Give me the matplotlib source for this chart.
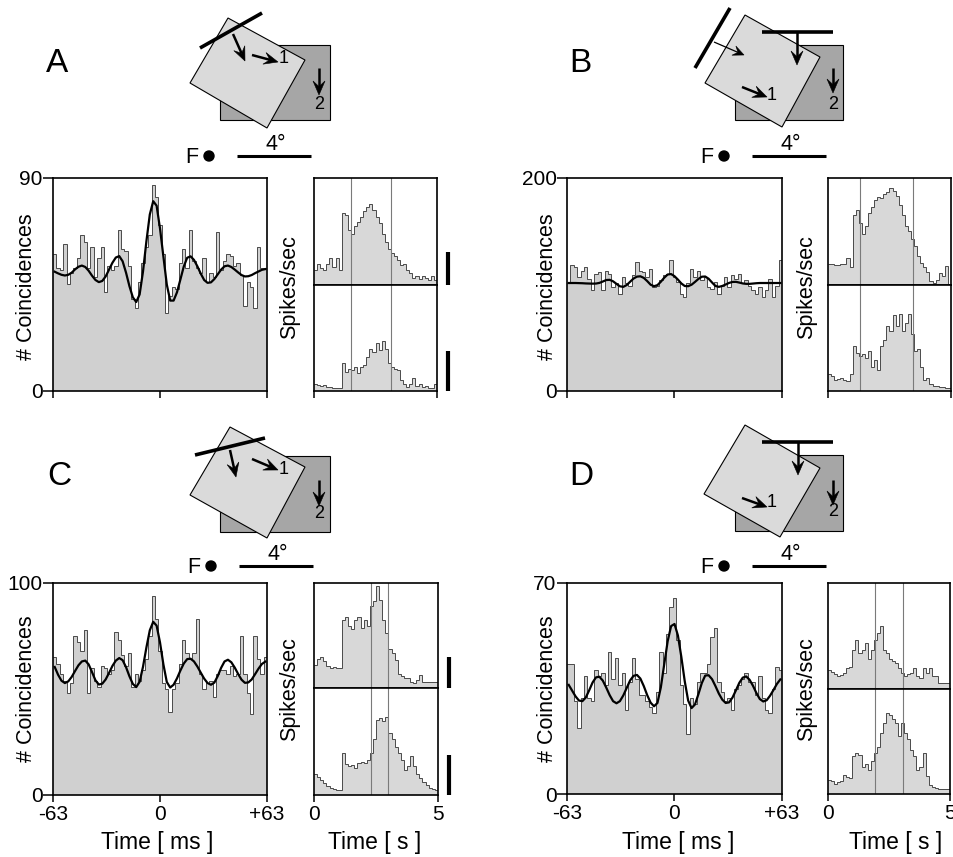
import numpy as np
import matplotlib
matplotlib.use('Agg')
import matplotlib.pyplot as plt
from matplotlib import transforms
from matplotlib.patches import Polygon, Rectangle, Circle

plt.rcParams['font.family'] = ['Liberation Sans', 'DejaVu Sans']

W, H = 954, 857

# cross-correlograms, 2 ms bins from -63 to +63 ms
lag_edges = np.linspace(-63, 63, 64)
lag_centers = (lag_edges[:-1] + lag_edges[1:]) / 2

corr_a = [58, 52, 51, 62, 45, 50, 52, 56, 66, 63, 52, 61, 48, 56, 61, 42, 53, 51, 53, 68,
          60, 59, 53, 39, 35, 46, 54, 61, 66, 87, 82, 70, 58, 33, 40, 44, 43, 54, 60, 52,
          68, 55, 52, 50, 56, 46, 50, 48, 67, 51, 55, 58, 57, 53, 54, 49, 36, 46, 44, 35,
          61, 52, 52]
fit_a = [50.4, 49.7, 49.1, 48.8, 49.1, 50.0, 51.4, 52.5, 53.0, 52.4,
         50.8, 48.7, 46.9, 46.0, 46.5, 48.4, 51.3, 54.2, 56.4, 57.0,
         54.8, 50.0, 44.3, 39.6, 37.6, 40.8, 50.5, 63.3, 74.6, 80.2,
         78.3, 68.7, 56.8, 45.0, 38.2, 38.2, 41.7, 47.1, 52.6, 56.3,
         56.9, 55.4, 52.7, 49.6, 46.9, 45.7, 45.9, 47.3, 49.3, 51.3,
         52.7, 53.0, 52.4, 51.3, 50.1, 49.0, 48.4, 48.5, 49.0, 49.8,
         50.5, 51.2, 51.5]

corr_b = [101, 118, 116, 107, 113, 116, 105, 95, 110, 112, 95, 113, 110, 98, 101, 91, 107, 101, 99, 109,
          121, 113, 112, 107, 115, 98, 99, 104, 109, 110, 123, 107, 102, 91, 88, 101, 115, 107, 113, 104,
          107, 98, 96, 102, 91, 99, 107, 98, 109, 105, 110, 101, 104, 99, 95, 91, 98, 88, 95, 105,
          88, 99, 123]
fit_b = [101.4, 101.4, 101.4, 101.3, 101.2, 101.0, 100.9, 100.8, 100.9, 101.5,
         102.8, 104.2, 104.4, 103.0, 100.6, 98.3, 97.8, 99.5, 102.6, 105.6,
         107.4, 107.7, 106.2, 103.2, 99.8, 98.4, 99.4, 102.6, 106.4, 109.4,
         109.8, 107.8, 104.6, 101.0, 98.6, 98.4, 99.8, 102.4, 105.2, 107.3,
         107.5, 105.4, 101.9, 98.6, 97.8, 98.6, 100.0, 101.5, 102.4, 102.5,
         101.8, 101.0, 100.6, 100.6, 100.9, 101.2, 101.4, 101.4, 101.4, 101.4,
         101.4, 101.4, 101.4]

corr_c = [65, 62, 57, 54, 48, 53, 75, 72, 68, 78, 48, 60, 54, 51, 61, 60, 57, 59, 77, 73,
          66, 61, 67, 51, 57, 54, 59, 64, 75, 94, 83, 68, 53, 50, 39, 50, 53, 62, 73, 67,
          64, 67, 83, 57, 50, 53, 54, 46, 57, 59, 59, 57, 61, 56, 57, 75, 57, 48, 38, 75,
          64, 57, 65]
fit_c = [60.4, 56.7, 53.9, 52.8, 53.6, 55.7, 58.5, 61.2, 63.0, 63.4,
         61.6, 57.9, 54.1, 52.1, 52.5, 54.5, 57.6, 60.9, 63.4, 64.6,
         63.6, 60.3, 56.0, 52.4, 50.9, 53.4, 60.5, 69.6, 77.7, 81.7,
         79.9, 72.0, 61.6, 53.3, 50.7, 52.0, 55.0, 58.7, 62.0, 64.1,
         64.3, 63.0, 60.6, 57.7, 54.9, 52.8, 52.0, 53.0, 56.1, 60.0,
         63.0, 63.8, 62.6, 60.1, 57.1, 54.4, 52.9, 53.1, 54.5, 57.0,
         59.6, 61.8, 62.9]

corr_d = [43, 43, 31, 22, 32, 39, 32, 31, 41, 39, 40, 36, 47, 38, 45, 36, 40, 28, 37, 45,
          38, 33, 33, 31, 29, 27, 34, 47, 40, 53, 62, 65, 51, 36, 30, 20, 32, 30, 37, 40,
          40, 43, 52, 55, 37, 34, 31, 32, 28, 35, 36, 38, 40, 37, 37, 33, 39, 32, 28, 27,
          35, 42, 41]
fit_d = [36.2, 34.3, 32.4, 31.0, 30.8, 32.0, 34.4, 37.0, 38.7, 38.9,
         37.6, 35.3, 32.8, 30.8, 30.1, 30.8, 32.7, 35.2, 37.7, 39.2,
         39.5, 38.3, 35.8, 32.8, 30.3, 29.1, 30.2, 35.4, 43.1, 50.7,
         55.7, 56.4, 52.6, 45.5, 37.4, 31.0, 28.5, 29.7, 33.1, 36.8,
         39.3, 39.4, 38.1, 35.8, 33.3, 31.3, 30.2, 30.4, 32.0, 34.4,
         36.9, 38.6, 39.0, 37.9, 35.9, 33.5, 31.5, 30.7, 31.1, 32.6,
         34.5, 36.5, 38.0]

corr_ymax = [90, 200, 100, 70]

# PSTHs, 0-5 s, 40 bins; heights in % of each half panel
t_edges = np.linspace(0, 5, 41)
psth_a_top = [14, 20, 16, 14, 20, 25, 17, 25, 14, 67, 65, 51, 48, 55, 59, 64, 69, 73, 76, 70,
              64, 58, 48, 40, 34, 30, 27, 23, 19, 20, 14, 11, 7, 8, 6, 8, 7, 5, 8, 5]
psth_a_bot = [7, 6, 5, 6, 4, 4, 3, 3, 3, 26, 18, 21, 20, 23, 17, 23, 25, 32, 40, 37,
              45, 39, 47, 40, 26, 23, 21, 20, 10, 7, 4, 7, 12, 5, 7, 4, 5, 3, 3, 7]
psth_b_top = [20, 20, 19, 19, 20, 20, 25, 17, 65, 70, 58, 48, 55, 67, 73, 79, 82, 81, 85, 87,
              91, 88, 83, 75, 65, 55, 50, 43, 36, 27, 21, 17, 12, 4, 2, 5, 11, 8, 18, 1]
psth_b_bot = [16, 14, 10, 11, 12, 10, 9, 16, 42, 36, 33, 35, 31, 38, 23, 29, 20, 42, 48, 61,
              57, 72, 61, 73, 57, 64, 73, 54, 38, 40, 23, 10, 12, 7, 5, 5, 4, 4, 3, 3]
psth_c_top = [22, 28, 30, 26, 21, 19, 20, 19, 19, 65, 68, 59, 56, 65, 68, 57, 65, 59, 78, 83,
              97, 84, 65, 52, 37, 33, 27, 13, 11, 10, 10, 6, 5, 8, 12, 6, 6, 6, 6, 6]
psth_c_bot = [20, 17, 14, 11, 8, 7, 6, 5, 5, 39, 29, 27, 28, 25, 30, 31, 30, 33, 39, 52,
              70, 72, 69, 73, 58, 52, 45, 39, 33, 23, 27, 36, 27, 20, 16, 12, 9, 7, 6, 5]
psth_d_top = [18, 16, 14, 12, 13, 15, 20, 21, 37, 46, 34, 37, 43, 28, 37, 46, 53, 59, 37, 34,
              28, 26, 25, 20, 15, 12, 14, 15, 20, 12, 10, 20, 15, 20, 12, 12, 6, 6, 6, 6]
psth_d_bot = [13, 12, 10, 11, 12, 18, 16, 15, 36, 39, 37, 26, 29, 23, 31, 39, 45, 58, 68, 77,
              75, 71, 68, 55, 68, 58, 52, 42, 36, 23, 26, 39, 17, 9, 7, 6, 5, 5, 5, 5]

cues_a = [1.49, 3.12]
cues_b = [1.30, 3.47]
cues_c = [2.28, 3.00]
cues_d = [1.93, 3.07]
scale_a = [31, 38]
scale_c = [30, 37]


def px_axes(fig, left, top, right, bottom):
    return fig.add_axes([left / W, 1 - bottom / H, (right - left) / W, (bottom - top) / H])


def arrow(ov, xa, ya, xb, yb, head=14.0, half=6.0, lw=1.8):
    dx, dy = xb - xa, yb - ya
    L = np.hypot(dx, dy)
    ux, uy = dx / L, dy / L
    nx, ny = -uy, ux
    notch = (xb - 0.6 * head * ux, yb - 0.6 * head * uy)
    bx, by = xb - head * ux, yb - head * uy
    ov.plot([xa, notch[0]], [ya, notch[1]], color='black', lw=lw, solid_capstyle='butt')
    ov.add_patch(Polygon([(xb, yb), (bx + half * nx, by + half * ny), notch,
                          (bx - half * nx, by - half * ny)], closed=True, fc='black', ec='black', lw=0.4))


def scene(ov, dark, light, bars, arrows, one, two):
    x0, y0, x1, y1 = dark
    ov.add_patch(Rectangle((x0, y0), x1 - x0, y1 - y0, fc='#a6a6a6', ec='black', lw=0.8))
    ov.add_patch(Polygon(light, closed=True, fc='#dadada', ec='black', lw=0.8))
    for xa, ya, xb, yb in bars:
        ov.plot([xa, xb], [ya, yb], color='black', lw=2.6, solid_capstyle='butt')
    for a in arrows:
        arrow(ov, *a)
    ov.text(one[0], one[1], '1', fontsize=13, ha='center', va='center')
    ov.text(two[0], two[1], '2', fontsize=13, ha='center', va='center')


def fixation(ov, x, y):
    ov.text(x, y, 'F', fontsize=15.5, ha='right', va='baseline')
    ov.add_patch(Circle((x + 11, y - 7), 5, color='black'))
    ov.plot([x + 39, x + 113], [y - 7, y - 7], color='black', lw=2.2, solid_capstyle='butt')
    ov.text(x + 78, y - 13, '4°', fontsize=15.5, ha='center', va='baseline')


def draw_corr(fig, box, counts, fit, ymax, labels):
    ax = px_axes(fig, *box)
    ax.stairs(counts, lag_edges, fill=True, color='#d0d0d0', lw=0)
    ax.stairs(counts, lag_edges, baseline=None, color='#4a4a4a', lw=0.7)
    ax.plot(lag_centers, fit, color='black', lw=1.6)
    ax.set_xlim(-63, 63)
    ax.set_ylim(0, ymax)
    ax.set_xticks([-63, 0, 63])
    ax.set_xticklabels(['-63', '0', '+63'] if labels else [])
    ax.set_yticks([0, ymax])
    ax.set_yticklabels(['0', str(ymax)])
    ax.tick_params(axis='x', direction='out', length=5, width=1.1, labelsize=15, pad=2)
    ax.tick_params(axis='y', direction='out', length=7, width=1.1, labelsize=15, pad=0.5)
    for s in ax.spines.values():
        s.set_linewidth(1.2)
    return ax


def draw_psth(fig, left, top, mid, right, bottom, upper, lower, cues, bars, labels):
    ax1 = px_axes(fig, left, top, right, mid)
    ax2 = px_axes(fig, left, mid, right, bottom)
    for ax, vals in ((ax1, upper), (ax2, lower)):
        ax.stairs(vals, t_edges, fill=True, color='#d8d8d8', lw=0)
        ax.stairs(vals, t_edges, baseline=None, color='#4a4a4a', lw=0.7)
        for c in cues:
            ax.axvline(c, color='#7a7a7a', lw=0.8)
        ax.set_xlim(0, 5)
        ax.set_ylim(0, 100)
        ax.set_yticks([])
        for s in ax.spines.values():
            s.set_linewidth(1.2)
    ax1.set_xticks([])
    ax2.set_xticks([0, 5])
    ax2.set_xticklabels(['0', '5'] if labels else [])
    ax2.tick_params(axis='x', direction='out', length=5, width=1.1, labelsize=15, pad=2)
    if bars:
        for ax, b in zip((ax1, ax2), bars):
            tr = transforms.blended_transform_factory(ax.transAxes, ax.transData)
            ax.plot([1.09, 1.09], [0, b], transform=tr, clip_on=False,
                    color='black', lw=3, solid_capstyle='butt')
    return ax1, ax2


fig = plt.figure(figsize=(W / 100, H / 100), dpi=100)
ov = fig.add_axes([0, 0, 1, 1])
ov.set_xlim(0, W)
ov.set_ylim(H, 0)
ov.axis('off')

# panel A
scene(ov, (220, 45, 330, 120), [(228, 18), (305, 60), (267, 128), (190, 83)],
      [(200, 48, 262, 13)],
      [(233, 34, 245, 61), (252, 55, 278, 62), (319, 68, 319, 95)], (284, 58), (319, 104))
fixation(ov, 198, 163)
# panel B
scene(ov, (735, 45, 843, 120), [(745, 15), (820, 57), (782, 127), (705, 83)],
      [(695, 68, 730, 8), (762, 32, 833, 32)],
      [(797, 32, 797, 65), (742, 87, 767, 97), (833, 68, 833, 93)], (772, 95), (833, 104))
arrow(ov, 714, 42, 744, 55, head=11, half=5, lw=0.9)
fixation(ov, 713, 163)
# panel C
scene(ov, (220, 456, 330, 532), [(230, 427), (305, 467), (267, 538), (190, 495)],
      [(195, 455, 265, 438)],
      [(230, 450, 236, 477), (252, 459, 278, 470), (319, 480, 319, 506)], (284, 469), (319, 514))
fixation(ov, 200, 573)
# panel D
scene(ov, (735, 455, 843, 531), [(745, 425), (820, 468), (780, 537), (704, 494)],
      [(762, 442, 833, 442)],
      [(798, 442, 798, 475), (742, 498, 767, 507), (833, 480, 833, 505)], (772, 502), (833, 512))
fixation(ov, 713, 573)

for letter, x, y in (('A', 46, 72), ('B', 569, 72), ('C', 47, 485), ('D', 569, 485)):
    ov.text(x, y, letter, fontsize=24, ha='left', va='baseline')

draw_corr(fig, (53, 178, 267, 391), corr_a, fit_a, corr_ymax[0], False)
draw_corr(fig, (567, 178, 782, 391), corr_b, fit_b, corr_ymax[1], False)
draw_corr(fig, (53, 583, 267, 795), corr_c, fit_c, corr_ymax[2], True)
draw_corr(fig, (567, 583, 782, 794), corr_d, fit_d, corr_ymax[3], True)

draw_psth(fig, 314, 178, 285, 437, 391, psth_a_top, psth_a_bot, cues_a, scale_a, False)
draw_psth(fig, 828, 178, 285, 951, 391, psth_b_top, psth_b_bot, cues_b, None, False)
draw_psth(fig, 314, 583, 688, 438, 795, psth_c_top, psth_c_bot, cues_c, scale_c, True)
draw_psth(fig, 828, 583, 689, 950, 794, psth_d_top, psth_d_bot, cues_d, None, True)

for x, y in ((27, 287), (548, 287), (27, 689), (548, 689)):
    ov.text(x, y, '# Coincidences', fontsize=15.5, rotation=90, ha='center', va='center')
for x, y in ((290, 287), (807, 287), (290, 689), (807, 689)):
    ov.text(x, y, 'Spikes/sec', fontsize=15.5, rotation=90, ha='center', va='center')
for x, txt in ((157, 'Time [ ms ]'), (375, 'Time [ s ]'), (678, 'Time [ ms ]'), (896, 'Time [ s ]')):
    ov.text(x, 843, txt, fontsize=16.5, ha='center', va='center')

fig.savefig('out.png', dpi=100)
